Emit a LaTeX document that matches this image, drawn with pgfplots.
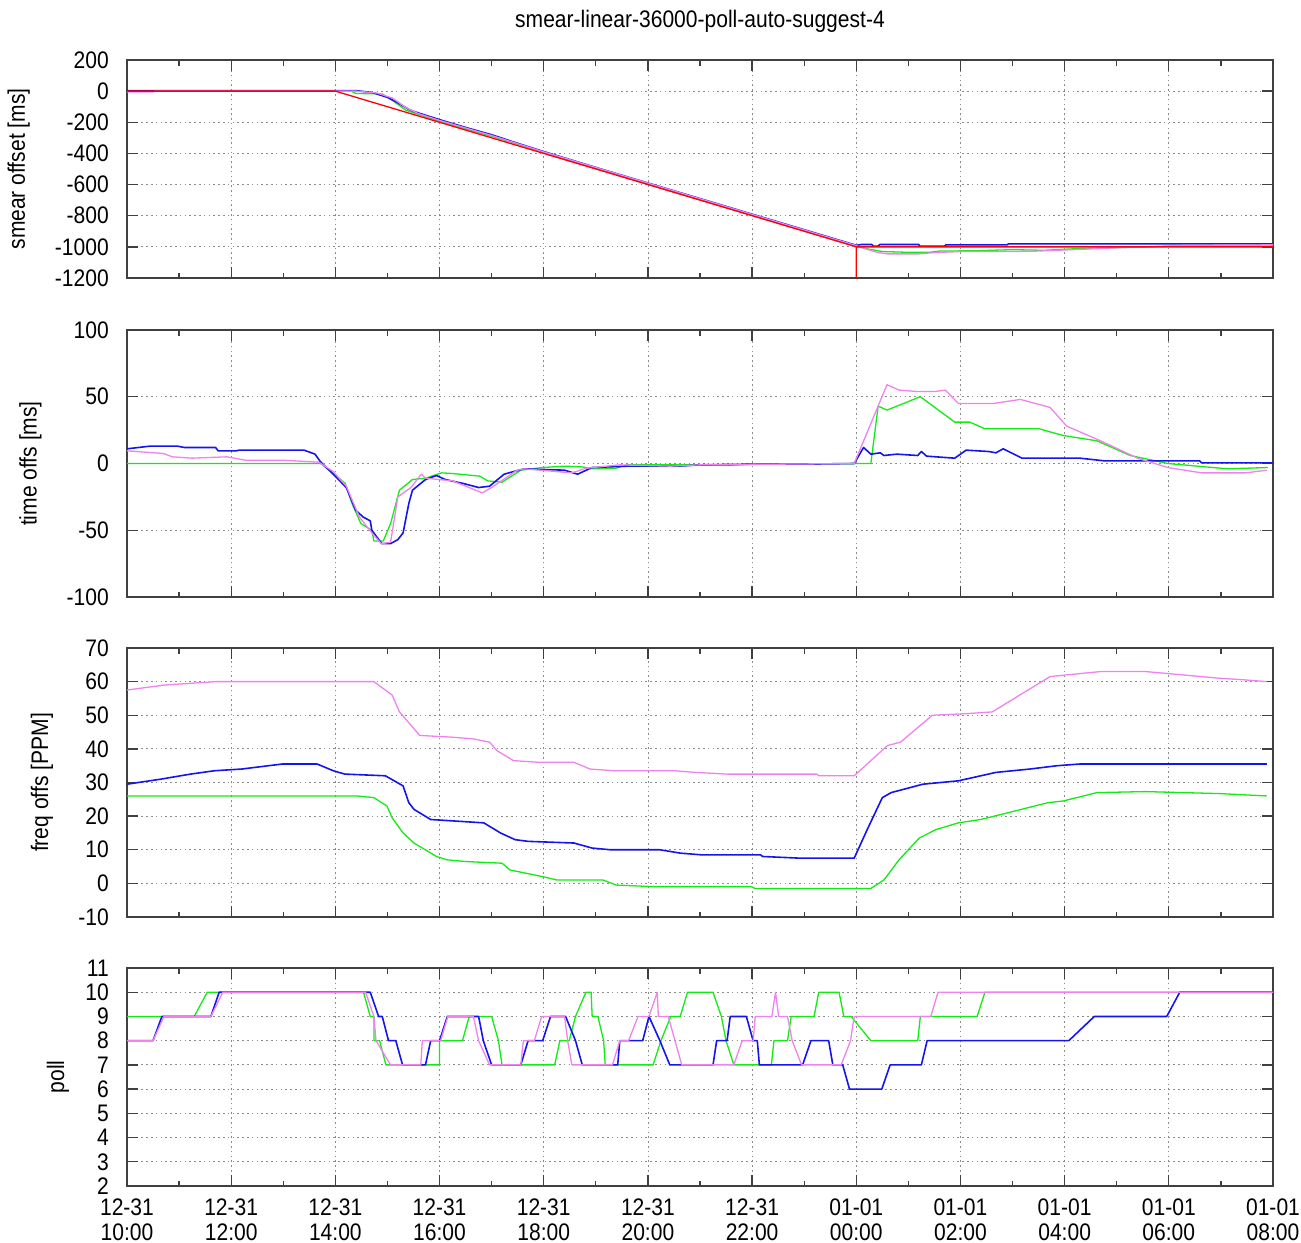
\documentclass[border=0pt]{standalone}
\usepackage{fontspec}
\setmainfont{Liberation Sans}[FakeStretch=0.88]
\usepackage{pgfplots}
\pgfplotsset{compat=1.18}

\newcommand{\lab}{\fontsize{24}{25}\selectfont}

\definecolor{gpblue}{RGB}{20,20,240}
\definecolor{gpgreen}{RGB}{20,235,20}
\definecolor{gpviolet}{RGB}{238,130,238}
\definecolor{gpred}{RGB}{255,0,0}

\pgfplotsset{
  panel/.style={
    scale only axis, width=1146bp,
    xmin=0, xmax=22,
    xtick={0,2,...,22}, minor xtick={1,3,...,21},
    xticklabels={},
    tick pos=both, ticklabel pos=left,
    tick align=inside,
    major tick length=11bp, minor tick length=5.5bp,
    grid=major,
    major grid style={draw=black!45, line width=0.8bp, dash pattern=on 1.6bp off 3.2bp},
    axis line style={draw=black!75, line width=1.3bp},
    tick style={draw=black!75, line width=1.3bp},
    tick label style={font=\lab},
    yticklabel style={inner sep=0pt, xshift=-18bp},
    ylabel style={font=\lab, at={(ticklabel cs:0.5,25bp)}, inner sep=0pt},
    every axis plot/.append style={line width=1.3bp, line join=round},
  }
}

\begin{document}
\begin{tikzpicture}
\useasboundingbox (0,0) rectangle (1301bp,-1243bp);
\node[font=\lab] at (700bp,-21bp) {smear-linear-36000-poll-auto-suggest-4};

% smear offset
\begin{axis}[panel, at={(127bp,-60bp)}, anchor=north west, height=218bp,
  ymin=-1200, ymax=200, ytick={-1200,-1000,...,200},
  yticklabels={-1200,-1000,-800,-600,-400,-200,0,200},
  ylabel={smear offset [ms]}]
\addplot[gpgreen] coordinates {
(0,0)(4.3,0)(4.4,-15)(4.9,-18)(5.1,-60)(5.35,-122)(6,-195)(7,-290)(8,-392)(14,-996)
(14.2,-1012)(14.5,-1030)(15,-1035)(15.4,-1035)(15.6,-1027)(16.3,-1025)(17,-1018)(17.6,-1022)
(18.2,-1012)(19,-1005)(20,-996)(22,-994)};
\addplot[gpblue, line width=1.6bp] coordinates {
(0,3)(4.4,3)(4.7,-8)(5.0,-40)(5.2,-75)(5.4,-115)(5.5,-130)(6,-183)(6.5,-233)(7,-280)(7.5,-335)
(8,-388)(9,-490)(10,-590)(11,-690)(12,-790)(13,-890)(14,-990)(14.1,-985)(14.3,-985)(14.32,-995)
(14.42,-995)(14.45,-985)(15.2,-985)(15.22,-995)(15.7,-995)(15.72,-987)(16.9,-987)(16.92,-981)
(20.2,-981)(22,-981)};
\addplot[gpviolet] coordinates {
(0,-5)(0.5,-5)(0.55,0)(4.4,0)(4.8,-12)(5.1,-45)(5.35,-105)(5.6,-145)(6,-188)(7,-285)(8,-390)
(14,-992)(14.1,-1005)(14.4,-1035)(14.6,-1045)(15.2,-1045)(15.5,-1037)(16,-1030)(17,-1030)
(17.5,-1027)(18,-1020)(18.6,-1012)(19.2,-1003)(19.7,-998)(20.3,-990)(22,-987)};
\addplot[gpred] coordinates {
(0,0)(4,0)(14,-1000)(14,-1200)(14,-1000)(22,-1000)};
\end{axis}

% time offset
\begin{axis}[panel, at={(127bp,-330bp)}, anchor=north west, height=267bp,
  ymin=-100, ymax=100, ytick={-100,-50,0,50,100},
  yticklabels={-100,-50,0,50,100},
  ylabel={time offs [ms]}]
\addplot[gpgreen] coordinates {
(0,0)(3.72,0)(4.1,-12)(4.19,-15)(4.32,-30)(4.49,-45)(4.7,-50)(4.74,-58)(4.92,-58)(5.06,-45)
(5.23,-20)(5.48,-12)(5.73,-11)(6.04,-7)(6.25,-7.5)(6.78,-9.5)(6.92,-13)(7.2,-14)(7.56,-5)
(7.98,-3)(8.4,-2)(8.72,-2.5)(8.96,-4)(9.39,-3.5)(9.6,-1)(11,-1)(11.5,-1.5)(12,-0.5)(14.28,0)
(14.42,43)(14.59,40)(15.23,50)(15.89,31)(16.18,31)(16.47,26)(17.51,26)(17.97,21)(18.62,17)
(19.26,6)(19.98,0)(21.13,-4)(21.9,-3)};
\addplot[gpblue, line width=1.6bp] coordinates {
(0,11)(0.44,13)(0.97,13)(1.1,12)(1.7,12)(1.75,9.5)(2.1,9.5)(2.15,10)(3.4,10)(3.61,7)(3.72,1)
(3.96,-8)(4.21,-18)(4.39,-35)(4.53,-40)(4.67,-43)(4.7,-50)(4.89,-60)(5.06,-60)(5.2,-57)(5.3,-52)
(5.41,-30)(5.48,-20)(5.73,-12)(5.94,-9)(6.11,-12)(6.46,-15)(6.75,-18)(6.96,-17)(7.24,-8)
(7.52,-5)(7.63,-4)(8.0,-4.5)(8.4,-5)(8.65,-8)(8.93,-3)(9.6,-2)(10.6,-2)(11,-1)(12,-0.5)
(13,-0.5)(13.96,0)(14.14,12)(14.28,7)(14.46,8)(14.53,6)(14.78,7)(15.18,6)(15.25,9)(15.35,5.5)
(15.89,4)(16.11,10)(16.54,9)(16.68,8)(16.82,11)(17.18,4)(18.29,4)(18.76,2)(20.59,2)(20.63,0.5)
(22,0.5)};
\addplot[gpviolet] coordinates {
(0,9.5)(0.7,7.5)(0.87,5)(1.25,4)(1.92,5)(2.27,2.5)(2.98,2.5)(3.68,1)(3.96,-6)(4.21,-17)
(4.46,-40)(4.7,-52)(4.88,-60)(5.06,-59)(5.2,-25)(5.45,-18)(5.65,-8)(5.73,-11)(6.25,-13)
(6.82,-22)(7.0,-18)(7.49,-5)(7.63,-4)(8.54,-7)(8.82,-3.5)(9.46,-1)(10.44,-2)(11,-1)(13.96,0)
(14.59,59)(14.82,55)(15.14,54)(15.53,54)(15.71,55)(15.96,45)(16.64,45)(17.15,48)(17.72,42)
(18.04,28)(18.69,17)(19.4,4)(19.98,-3)(20.63,-7)(21.48,-7)(21.88,-5)};
\end{axis}

% frequency offset
\begin{axis}[panel, at={(127bp,-648bp)}, anchor=north west, height=269bp,
  ymin=-10, ymax=70, ytick={-10,0,...,70},
  yticklabels={-10,0,10,20,30,40,50,60,70},
  ylabel={freq offs [PPM]}]
\addplot[gpgreen] coordinates {
(0,26)(4.42,26)(4.74,25.5)(4.99,23)(5.09,19.5)(5.3,15)(5.51,12)(5.94,8)(6.15,7)(6.5,6.5)
(7.2,6)(7.35,4)(7.98,2)(8.26,1)(9.14,1)(9.39,-0.5)(10.16,-1)(11.99,-1)(12.05,-1.5)(14.28,-1.5)
(14.53,1)(14.82,7)(15.21,13.5)(15.53,16)(15.96,18)(16.39,19)(17.04,21.5)(17.68,24)(17.97,24.5)
(18.62,27)(19.55,27.3)(20.98,26.7)(21.88,26)};
\addplot[gpblue, line width=1.6bp] coordinates {
(0,29.5)(0.65,31)(1.22,32.5)(1.68,33.5)(2.2,34)(2.98,35.5)(3.65,35.5)(3.96,33.5)(4.18,32.5)
(4.96,32)(5.3,29)(5.41,24)(5.51,22)(5.83,19)(6.85,18)(7.17,15)(7.45,13)(7.7,12.5)(8.58,12)
(8.93,10.5)(9.28,10)(10.23,10)(10.62,9)(11.02,8.5)(12.16,8.5)(12.2,8)(12.92,7.5)(13.96,7.5)
(14.21,16)(14.5,25.5)(14.67,27)(15.28,29.5)(15.96,30.5)(16.68,33)(17.33,34)(17.86,35)
(18.29,35.5)(21.88,35.5)};
\addplot[gpviolet] coordinates {
(0,57.5)(0.73,59)(1.71,60)(4.74,60)(5.09,56)(5.23,51)(5.62,44)(6.22,43.5)(6.64,43)(6.96,42)
(7.1,39.5)(7.42,36.5)(7.91,36)(8.58,36)(8.89,34)(9.35,33.5)(10.51,33.5)(10.92,33)(11.52,32.5)
(13.24,32.5)(13.28,32)(13.96,32)(14.6,41)(14.85,42)(15.46,50)(16.14,50.5)(16.61,51)(17.72,61.5)
(18.69,63)(19.55,63)(20.27,62)(20.98,61)(21.48,60.5)(21.88,60)};
\end{axis}

% poll
\begin{axis}[panel, at={(127bp,-968bp)}, anchor=north west, height=218bp,
  ymin=2, ymax=11, ytick={2,3,...,11},
  yticklabels={2,3,4,5,6,7,8,9,10,11},
  ylabel={poll},
  ylabel style={at={(ticklabel cs:0.5,16bp)}},
  xticklabels={{12-31\\10:00},{12-31\\12:00},{12-31\\14:00},{12-31\\16:00},{12-31\\18:00},
    {12-31\\20:00},{12-31\\22:00},{01-01\\00:00},{01-01\\02:00},{01-01\\04:00},{01-01\\06:00},
    {01-01\\08:00}},
  xticklabel style={align=center, inner sep=0pt, yshift=-13bp}]
\addplot[gpgreen] coordinates {
(0,9)(1.29,9)(1.54,10)(4.54,10)(4.67,9)(4.74,9)(4.74,8)(4.85,8)(4.97,7)(6.0,7)(6.0,8)(6.44,8)
(6.57,9)(7.0,9)(7.13,8)(7.2,7)(8.21,7)(8.31,8)(8.49,8)(8.61,9)(8.81,10)(8.91,10)(8.93,9)
(9.04,9)(9.15,8)(9.18,7)(10.1,7)(10.25,8)(10.44,9)(10.62,9)(10.76,10)(11.25,10)(11.41,9)
(11.5,8)(11.65,7)(12.37,7)(12.42,8)(12.68,8)(12.75,9)(13.19,9)(13.28,10)(13.67,10)(13.76,9)
(13.9,9)(14.28,8)(15.18,8)(15.23,9)(16.32,9)(16.47,10)(22,10)};
\addplot[gpblue, line width=1.6bp] coordinates {
(0,8)(0.5,8)(0.67,9)(1.61,9)(1.77,10)(4.67,10)(4.83,9)(4.9,9)(5.02,8)(5.16,8)(5.29,7)(5.73,7)
(5.83,8)(6.0,8)(6.15,9)(6.75,9)(6.84,8)(7.0,7)(7.56,7)(7.7,8)(7.98,8)(8.13,9)(8.42,9)(8.61,8)
(8.74,7)(9.42,7)(9.46,8)(9.9,8)(10.02,9)(10.23,8)(10.42,7)(11.25,7)(11.32,8)(11.52,8)(11.58,9)
(11.89,9)(12.02,8)(12.1,8)(12.14,7)(12.97,7)(13.13,8)(13.47,8)(13.55,7)(13.74,7)(13.87,6)
(14.49,6)(14.65,7)(15.25,7)(15.36,8)(18.08,8)(18.57,9)(19.96,9)(20.21,10)(22,10)};
\addplot[gpviolet] coordinates {
(0,8)(0.5,8)(0.71,9)(1.61,9)(1.84,10)(4.58,10)(4.74,9)(4.78,8)(5.06,7)(5.64,7)(5.67,8)(6.02,8)
(6.16,9)(6.65,9)(6.75,8)(6.96,7)(7.56,7)(7.61,8)(7.82,8)(7.96,9)(8.4,9)(8.46,8)(8.54,7)(9.32,7)
(9.46,8)(9.63,8)(9.81,9)(10.02,9)(10.18,10)(10.2,9)(10.39,9)(10.65,7)(11.65,7)(11.81,8)
(12.02,8)(12.06,9)(12.38,9)(12.45,10)(12.51,9)(12.68,9)(12.77,8)(12.95,7)(13.71,7)(13.89,8)
(13.96,9)(15.43,9)(15.57,10)(22,10)};
\end{axis}
\end{tikzpicture}
\end{document}
